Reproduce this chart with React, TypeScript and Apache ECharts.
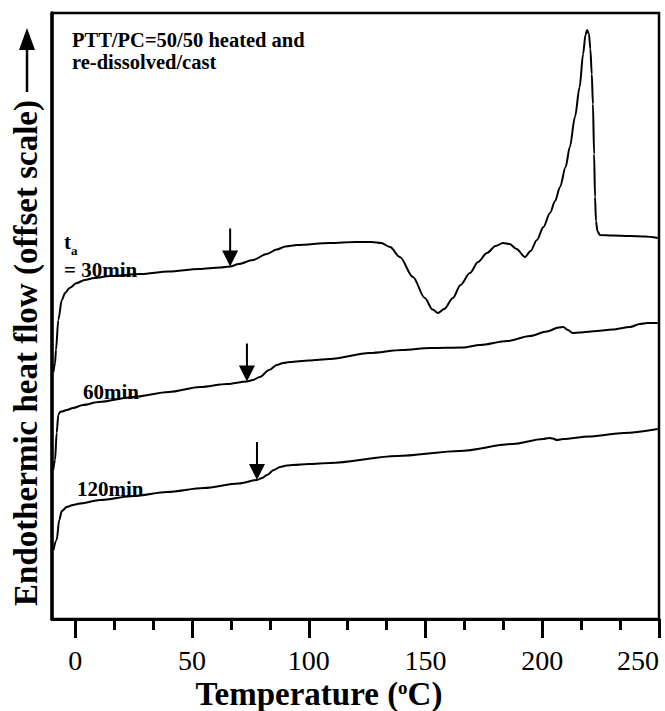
import React, { useEffect, useRef } from "react";
import * as echarts from "echarts";

// Temperature (°C) tick values
const majorTicks = [0, 50, 100, 150, 200, 250];
const minorTicks = [16.67, 33.33, 66.67, 83.33, 116.67, 133.33, 166.67, 183.33, 216.67, 233.33];

// Heat flow traces, offset scale (arbitrary units), [temperature, heat flow]
const curve30min: [number, number][] = [
  [-9.4, 247], [-8.7, 256], [-8.3, 269], [-7.3, 299], [-5.8, 319], [-4.4, 326], [-2.5, 331],
  [0.6, 336], [4, 339], [8, 341], [15, 343], [28, 345], [40, 347.5], [53, 350], [62, 351.5],
  [66.3, 352.5], [70, 355], [76, 359], [82, 365], [86.3, 369.5], [90, 372.5], [95, 374],
  [109, 376], [120, 377], [127, 377], [131, 376], [134.8, 372], [139, 362], [144.6, 342],
  [149.7, 321], [153, 309.5], [155.3, 306], [158, 310], [161.7, 321], [165, 334], [169, 346],
  [172.5, 357], [176.3, 366], [180, 373], [183.2, 376], [186, 375], [189, 370], [192.6, 362],
  [195, 368], [197.7, 379], [200.5, 392], [203.3, 406], [205.5, 418], [207.6, 432], [210, 452],
  [211.8, 472], [214, 502], [216, 532], [217.5, 565], [218.5, 584], [219.2, 589], [220, 585],
  [220.6, 570], [221.2, 545], [221.7, 515], [222.2, 465], [222.6, 422], [223, 398], [223.6, 388],
  [224.7, 384], [230, 383.5], [237.6, 383], [244, 382.5], [249.5, 381],
];

const curve60min: [number, number][] = [
  [-9.5, 149], [-8.7, 159], [-8.0, 186], [-7.3, 204], [-6.6, 207], [-5.8, 207.5], [-3.7, 209],
  [-1, 211], [3.3, 214], [10, 217], [24.7, 222], [40, 227], [53.4, 232], [65, 235], [73.5, 237.5],
  [76, 239], [79, 242], [83, 249], [86.3, 254], [89, 256], [91.9, 257], [100, 258.5], [109, 260],
  [126, 266], [140, 269], [152, 271], [166, 271.5], [173.3, 274], [185, 278], [194.7, 283],
  [202, 287.5], [207, 291.5], [209, 292], [211, 289], [213, 286], [216, 286.5], [223.4, 288],
  [230, 289.5], [237.6, 292], [241.8, 295], [245, 296], [249.5, 296],
];

const curve120min: [number, number][] = [
  [-9.4, 69], [-8.0, 79], [-6.9, 99], [-5.8, 108], [-3.7, 112], [-1, 114], [2, 115.5],
  [10.6, 119], [25, 123], [39.3, 127], [55, 131], [70, 135.5], [77.8, 139], [80, 141],
  [82.1, 144], [85, 149], [87.7, 152], [90.5, 153.5], [93.2, 154], [100, 155], [109, 156],
  [137.8, 163], [164.7, 168], [187.4, 175], [200.3, 180], [203, 181], [204.5, 180.5],
  [206.3, 179], [208.9, 180], [220, 182.5], [235, 186], [249.5, 190],
];

// Arrow tips marking the glass transition on each trace
const arrow30min: [number, number] = [66.3, 352.5];
const arrow60min: [number, number] = [73.5, 237.5];
const arrow120min: [number, number] = [77.8, 139];

const FONT = "'Liberation Serif', 'Times New Roman', serif";
const ARROW = "path://M7,0L9,0L9,22L16,22L8,38L0,22L7,22Z";

export default function App() {
  const ref = useRef<HTMLDivElement>(null);

  useEffect(() => {
    const chart = echarts.init(ref.current!, null, { renderer: "svg" });

    const mkSeries = (name: string, data: [number, number][], tip: [number, number]) => ({
      type: "line",
      name,
      data,
      xAxisIndex: 0,
      yAxisIndex: 0,
      symbol: "none",
      showSymbol: false,
      smooth: 0.3,
      smoothMonotone: "x",
      silent: true,
      lineStyle: { color: "#000", width: 2 },
      markPoint: {
        symbol: ARROW,
        symbolSize: [16, 38],
        symbolOffset: [0, "-50%"],
        itemStyle: { color: "#000" },
        label: { show: false },
        silent: true,
        data: [{ coord: tip }],
      },
    });

    const bold21 = `bold 21px ${FONT}`;

    chart.setOption({
      animation: false,
      backgroundColor: "#fff",
      grid: {
        left: 52,
        right: 6,
        top: 13,
        bottom: 92,
        outerBoundsMode: "none",
        containLabel: false,
        show: true,
        borderColor: "#000",
        borderWidth: 2.5,
        backgroundColor: "transparent",
      },
      xAxis: [
        {
          type: "value",
          min: -10,
          max: 250,
          position: "bottom",
          splitLine: { show: false },
          axisLine: { show: true, onZero: false, lineStyle: { color: "#000", width: 3 } },
          axisTick: {
            show: true,
            customValues: majorTicks,
            length: 19,
            lineStyle: { color: "#000", width: 3 },
          },
          axisLabel: {
            customValues: majorTicks,
            alignMaxLabel: "right",
            margin: 27,
            fontSize: 28,
            lineHeight: 28,
            fontFamily: FONT,
            color: "#000",
          },
        },
        {
          type: "value",
          min: -10,
          max: 250,
          position: "bottom",
          splitLine: { show: false },
          axisLine: { show: false, onZero: false },
          axisLabel: { show: false },
          axisTick: {
            show: true,
            customValues: minorTicks,
            length: 11,
            lineStyle: { color: "#000", width: 3 },
          },
        },
      ],
      yAxis: {
        type: "value",
        min: 0,
        max: 606,
        splitLine: { show: false },
        axisTick: { show: false },
        axisLabel: { show: false },
        axisLine: { show: true, onZero: false, lineStyle: { color: "#000", width: 3.5 } },
      },
      series: [
        mkSeries("30min", curve30min, arrow30min),
        mkSeries("60min", curve60min, arrow60min),
        mkSeries("120min", curve120min, arrow120min),
      ],
      graphic: [
        {
          type: "text",
          x: 26,
          y: 353,
          rotation: Math.PI / 2,
          style: {
            text: "Endothermic heat flow (offset scale)",
            font: `bold 33px ${FONT}`,
            fill: "#000",
            align: "center",
            verticalAlign: "middle",
          },
        },
        {
          type: "line",
          shape: { x1: 27, y1: 92, x2: 27, y2: 48 },
          style: { stroke: "#000", lineWidth: 2.5 },
        },
        {
          type: "polygon",
          shape: { points: [[19, 50], [35, 50], [27, 28]] },
          style: { fill: "#000" },
        },
        {
          type: "text",
          x: 319,
          y: 694,
          style: {
            text: "{m|Temperature (}{s|o}{m|C)}",
            align: "center",
            verticalAlign: "middle",
            fill: "#000",
            rich: {
              m: { fontSize: 33, fontWeight: "bold", fontFamily: FONT, lineHeight: 32, fill: "#000" },
              s: { fontSize: 19, fontWeight: "bold", fontFamily: FONT, lineHeight: 19, verticalAlign: "top", fill: "#000" },
            },
          },
        },
        {
          type: "text",
          x: 72,
          y: 40,
          style: { text: "PTT/PC=50/50 heated and", font: `bold 20.5px ${FONT}`, fill: "#000", verticalAlign: "middle", lineHeight: 18 },
        },
        {
          type: "text",
          x: 72,
          y: 62,
          style: { text: "re-dissolved/cast", font: `bold 20.5px ${FONT}`, fill: "#000", verticalAlign: "middle", lineHeight: 18 },
        },
        {
          type: "text",
          x: 64,
          y: 242,
          style: { text: "t", font: bold21, fill: "#000", verticalAlign: "middle", lineHeight: 16 },
        },
        {
          type: "text",
          x: 71,
          y: 250,
          style: { text: "a", font: `bold 13px ${FONT}`, fill: "#000", verticalAlign: "middle", lineHeight: 9 },
        },
        {
          type: "text",
          x: 64,
          y: 270,
          style: { text: "= 30min", font: bold21, fill: "#000", verticalAlign: "middle", lineHeight: 16 },
        },
        {
          type: "text",
          x: 83,
          y: 392,
          style: { text: "60min", font: bold21, fill: "#000", verticalAlign: "middle" },
        },
        {
          type: "text",
          x: 77,
          y: 489,
          style: { text: "120min", font: bold21, fill: "#000", verticalAlign: "middle" },
        },
      ],
    });

    return () => {
      chart.dispose();
    };
  }, []);

  return (
    <div
      ref={ref}
      style={{ position: "fixed", left: 0, top: 0, width: 665, height: 711, background: "#fff" }}
    />
  );
}
